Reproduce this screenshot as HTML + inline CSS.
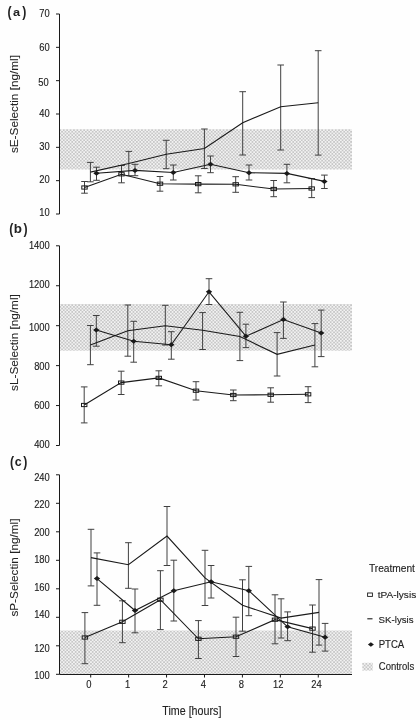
<!DOCTYPE html>
<html><head><meta charset="utf-8"><style>
html,body{margin:0;padding:0;background:#fefefe;}
body{width:420px;height:720px;overflow:hidden;}
svg{display:block;filter:blur(0.3px);}
text{font-family:"Liberation Sans", sans-serif;fill:#222;stroke:#222;stroke-width:0.12px;}
.tk{font-size:9.4px;}
.ti{font-size:10.7px;}
.yt{font-size:10.8px;stroke-width:0.08px;}
.lg{font-size:10.2px;}
.lg2{font-size:10.1px;}
.lg3{font-size:9.7px;}
.lg4{font-size:9.6px;}
.lg5{font-size:9.5px;}
.pl{font-size:14.3px;font-weight:bold;stroke-width:0px;}
.pp{font-size:14.4px;font-weight:bold;stroke-width:0px;}
</style></head><body>
<svg width="420" height="720" viewBox="0 0 420 720">
<defs><pattern id="dots" width="3.4" height="3.4" patternUnits="userSpaceOnUse"><rect width="3.4" height="3.4" fill="#c7c7c7"/><rect x="0" y="0" width="1.7" height="1.7" fill="#f2f2f2"/><rect x="1.7" y="1.7" width="1.7" height="1.7" fill="#f2f2f2"/></pattern></defs>
<rect width="420" height="720" fill="#fefefe"/>
<rect x="59.5" y="129.2" width="292.5" height="40.30000000000001" fill="url(#dots)"/>
<rect x="59.5" y="304" width="292.5" height="46.69999999999999" fill="url(#dots)"/>
<rect x="59.5" y="630.5" width="292.5" height="43.799999999999955" fill="url(#dots)"/>
<line x1="59.5" y1="14" x2="59.5" y2="214" stroke="#1a1a1a" stroke-width="1"/>
<line x1="56.0" y1="14.0" x2="59.5" y2="14.0" stroke="#1a1a1a" stroke-width="1"/>
<text transform="translate(49.8,17.45) scale(1.0,1.12)" text-anchor="end" class="tk">70</text>
<line x1="56.0" y1="47.333333333333336" x2="59.5" y2="47.333333333333336" stroke="#1a1a1a" stroke-width="1"/>
<text transform="translate(49.8,50.55) scale(1.0,1.12)" text-anchor="end" class="tk">60</text>
<line x1="56.0" y1="80.66666666666667" x2="59.5" y2="80.66666666666667" stroke="#1a1a1a" stroke-width="1"/>
<text transform="translate(48.8,85.75) scale(1.0,1.12)" text-anchor="end" class="tk">50</text>
<line x1="56.0" y1="114.0" x2="59.5" y2="114.0" stroke="#1a1a1a" stroke-width="1"/>
<text transform="translate(49.8,117.35) scale(1.0,1.12)" text-anchor="end" class="tk">40</text>
<line x1="56.0" y1="147.33333333333334" x2="59.5" y2="147.33333333333334" stroke="#1a1a1a" stroke-width="1"/>
<text transform="translate(49.8,149.95) scale(1.0,1.12)" text-anchor="end" class="tk">30</text>
<line x1="56.0" y1="180.66666666666669" x2="59.5" y2="180.66666666666669" stroke="#1a1a1a" stroke-width="1"/>
<text transform="translate(49.8,182.75) scale(1.0,1.12)" text-anchor="end" class="tk">20</text>
<line x1="56.0" y1="214.0" x2="59.5" y2="214.0" stroke="#1a1a1a" stroke-width="1"/>
<text transform="translate(49.8,215.85) scale(1.0,1.12)" text-anchor="end" class="tk">10</text>
<line x1="59.5" y1="245.8" x2="59.5" y2="445.5" stroke="#1a1a1a" stroke-width="1"/>
<line x1="56.0" y1="245.8" x2="59.5" y2="245.8" stroke="#1a1a1a" stroke-width="1"/>
<text transform="translate(49.8,248.75) scale(1.0,1.12)" text-anchor="end" class="tk">1400</text>
<line x1="56.0" y1="285.74" x2="59.5" y2="285.74" stroke="#1a1a1a" stroke-width="1"/>
<text transform="translate(49.8,287.75) scale(1.0,1.12)" text-anchor="end" class="tk">1200</text>
<line x1="56.0" y1="325.68" x2="59.5" y2="325.68" stroke="#1a1a1a" stroke-width="1"/>
<text transform="translate(49.8,331.45) scale(1.0,1.12)" text-anchor="end" class="tk">1000</text>
<line x1="56.0" y1="365.62" x2="59.5" y2="365.62" stroke="#1a1a1a" stroke-width="1"/>
<text transform="translate(49.8,370.45) scale(1.0,1.12)" text-anchor="end" class="tk">800</text>
<line x1="56.0" y1="405.56" x2="59.5" y2="405.56" stroke="#1a1a1a" stroke-width="1"/>
<text transform="translate(49.8,408.75) scale(1.0,1.12)" text-anchor="end" class="tk">600</text>
<line x1="56.0" y1="445.5" x2="59.5" y2="445.5" stroke="#1a1a1a" stroke-width="1"/>
<text transform="translate(49.8,447.95) scale(1.0,1.12)" text-anchor="end" class="tk">400</text>
<line x1="59.5" y1="474.8" x2="59.5" y2="674.3" stroke="#1a1a1a" stroke-width="1"/>
<line x1="56.0" y1="474.8" x2="59.5" y2="474.8" stroke="#1a1a1a" stroke-width="1"/>
<text transform="translate(49.8,480.75) scale(1.0,1.12)" text-anchor="end" class="tk">240</text>
<line x1="56.0" y1="503.3" x2="59.5" y2="503.3" stroke="#1a1a1a" stroke-width="1"/>
<text transform="translate(49.8,507.75) scale(1.0,1.12)" text-anchor="end" class="tk">220</text>
<line x1="56.0" y1="531.8" x2="59.5" y2="531.8" stroke="#1a1a1a" stroke-width="1"/>
<text transform="translate(49.8,535.75) scale(1.0,1.12)" text-anchor="end" class="tk">200</text>
<line x1="56.0" y1="560.3" x2="59.5" y2="560.3" stroke="#1a1a1a" stroke-width="1"/>
<text transform="translate(49.8,563.35) scale(1.0,1.12)" text-anchor="end" class="tk">180</text>
<line x1="56.0" y1="588.8" x2="59.5" y2="588.8" stroke="#1a1a1a" stroke-width="1"/>
<text transform="translate(49.8,590.95) scale(1.0,1.12)" text-anchor="end" class="tk">160</text>
<line x1="56.0" y1="617.3" x2="59.5" y2="617.3" stroke="#1a1a1a" stroke-width="1"/>
<text transform="translate(49.8,618.35) scale(1.0,1.12)" text-anchor="end" class="tk">140</text>
<line x1="56.0" y1="645.8" x2="59.5" y2="645.8" stroke="#1a1a1a" stroke-width="1"/>
<text transform="translate(49.8,651.65) scale(1.0,1.12)" text-anchor="end" class="tk">120</text>
<line x1="56.0" y1="674.3" x2="59.5" y2="674.3" stroke="#1a1a1a" stroke-width="1"/>
<text transform="translate(49.8,679.15) scale(1.0,1.12)" text-anchor="end" class="tk">100</text>
<line x1="59.5" y1="674.5" x2="352" y2="674.5" stroke="#1a1a1a" stroke-width="1"/>
<line x1="90.7" y1="674.5" x2="90.7" y2="677.5" stroke="#1a1a1a" stroke-width="1"/>
<text transform="translate(88.8,687.8) scale(1.0,1.1)" text-anchor="middle" class="tk">0</text>
<line x1="128.63" y1="674.5" x2="128.63" y2="677.5" stroke="#1a1a1a" stroke-width="1"/>
<text transform="translate(127.6,687.8) scale(1.0,1.1)" text-anchor="middle" class="tk">1</text>
<line x1="166.56" y1="674.5" x2="166.56" y2="677.5" stroke="#1a1a1a" stroke-width="1"/>
<text transform="translate(165.0,687.8) scale(1.0,1.1)" text-anchor="middle" class="tk">2</text>
<line x1="204.49" y1="674.5" x2="204.49" y2="677.5" stroke="#1a1a1a" stroke-width="1"/>
<text transform="translate(203.3,687.8) scale(1.0,1.1)" text-anchor="middle" class="tk">4</text>
<line x1="242.42000000000002" y1="674.5" x2="242.42000000000002" y2="677.5" stroke="#1a1a1a" stroke-width="1"/>
<text transform="translate(241.4,687.8) scale(1.0,1.1)" text-anchor="middle" class="tk">8</text>
<line x1="280.35" y1="674.5" x2="280.35" y2="677.5" stroke="#1a1a1a" stroke-width="1"/>
<text transform="translate(278.3,687.8) scale(1.0,1.1)" text-anchor="middle" class="tk">12</text>
<line x1="318.28" y1="674.5" x2="318.28" y2="677.5" stroke="#1a1a1a" stroke-width="1"/>
<text transform="translate(316.4,687.8) scale(1.0,1.1)" text-anchor="middle" class="tk">24</text>
<path d="M81.2,181.5H87.8M84.5,181.5V193.2M81.2,193.2H87.8" stroke="#404040" stroke-width="1.0" fill="none"/>
<path d="M118.2,165.5H124.8M121.5,165.5V182.8M118.2,182.8H124.8" stroke="#404040" stroke-width="1.0" fill="none"/>
<path d="M156.7,176.5H163.3M160,176.5V191.2M156.7,191.2H163.3" stroke="#404040" stroke-width="1.0" fill="none"/>
<path d="M194.89999999999998,175.8H201.5M198.2,175.8V192.8M194.89999999999998,192.8H201.5" stroke="#404040" stroke-width="1.0" fill="none"/>
<path d="M232.39999999999998,176.7H239.0M235.7,176.7V192.3M232.39999999999998,192.3H239.0" stroke="#404040" stroke-width="1.0" fill="none"/>
<path d="M270.4,180.5H277.0M273.7,180.5V196.7M270.4,196.7H277.0" stroke="#404040" stroke-width="1.0" fill="none"/>
<path d="M308.4,178.6H315.0M311.7,178.6V197.6M308.4,197.6H315.0" stroke="#404040" stroke-width="1.0" fill="none"/>
<path d="M87.10000000000001,162.4H93.7M90.4,162.4V181.8M87.10000000000001,181.8H93.7" stroke="#404040" stroke-width="1.0" fill="none"/>
<path d="M125.50000000000001,151.4H132.10000000000002M128.8,151.4V175.7M125.50000000000001,175.7H132.10000000000002" stroke="#404040" stroke-width="1.0" fill="none"/>
<path d="M162.89999999999998,140.3H169.5M166.2,140.3V168.7M162.89999999999998,168.7H169.5" stroke="#404040" stroke-width="1.0" fill="none"/>
<path d="M201.1,129H207.70000000000002M204.4,129V168.5M201.1,168.5H207.70000000000002" stroke="#404040" stroke-width="1.0" fill="none"/>
<path d="M239.39999999999998,91.7H246.0M242.7,91.7V155M239.39999999999998,155H246.0" stroke="#404040" stroke-width="1.0" fill="none"/>
<path d="M277.4,65H284.0M280.7,65V150M277.4,150H284.0" stroke="#404040" stroke-width="1.0" fill="none"/>
<path d="M314.9,50.7H321.5M318.2,50.7V155.1M314.9,155.1H321.5" stroke="#404040" stroke-width="1.0" fill="none"/>
<path d="M93.2,167.2H99.8M96.5,167.2V180.3M93.2,180.3H99.8" stroke="#404040" stroke-width="1.0" fill="none"/>
<path d="M131.7,164.3H138.3M135,164.3V175.7M131.7,175.7H138.3" stroke="#404040" stroke-width="1.0" fill="none"/>
<path d="M170.0,165H176.60000000000002M173.3,165V180M170.0,180H176.60000000000002" stroke="#404040" stroke-width="1.0" fill="none"/>
<path d="M207.2,156H213.8M210.5,156V172.7M207.2,172.7H213.8" stroke="#404040" stroke-width="1.0" fill="none"/>
<path d="M245.7,165H252.3M249,165V180M245.7,180H252.3" stroke="#404040" stroke-width="1.0" fill="none"/>
<path d="M283.59999999999997,164.3H290.2M286.9,164.3V182.8M283.59999999999997,182.8H290.2" stroke="#404040" stroke-width="1.0" fill="none"/>
<path d="M321.09999999999997,175.1H327.7M324.4,175.1V188.5M321.09999999999997,188.5H327.7" stroke="#404040" stroke-width="1.0" fill="none"/>
<polyline points="84.5,187.5 121.5,174.3 160,183.7 198.2,184.1 235.7,184.3 273.7,189 311.7,188.5" stroke="#1a1a1a" stroke-width="1.1" fill="none"/>
<polyline points="90.4,172.1 128.8,163.5 166.2,154.2 204.4,148.5 242.7,122.7 280.7,106.7 318.2,102.8" stroke="#1a1a1a" stroke-width="1.1" fill="none"/>
<polyline points="96.5,173.3 135,170.4 173.3,172.5 210.5,164.3 249,172.7 286.9,173.4 324.4,181.4" stroke="#1a1a1a" stroke-width="1.1" fill="none"/>
<rect x="81.8" y="185.9" width="5.4" height="3.2" fill="none" stroke="#1a1a1a" stroke-width="1"/>
<rect x="118.8" y="172.70000000000002" width="5.4" height="3.2" fill="none" stroke="#1a1a1a" stroke-width="1"/>
<rect x="157.3" y="182.1" width="5.4" height="3.2" fill="none" stroke="#1a1a1a" stroke-width="1"/>
<rect x="195.5" y="182.5" width="5.4" height="3.2" fill="none" stroke="#1a1a1a" stroke-width="1"/>
<rect x="233.0" y="182.70000000000002" width="5.4" height="3.2" fill="none" stroke="#1a1a1a" stroke-width="1"/>
<rect x="271.0" y="187.4" width="5.4" height="3.2" fill="none" stroke="#1a1a1a" stroke-width="1"/>
<rect x="309.0" y="186.9" width="5.4" height="3.2" fill="none" stroke="#1a1a1a" stroke-width="1"/>
<path d="M96.5,170.8L99.7,173.3L96.5,175.8L93.3,173.3Z" fill="#1a1a1a"/>
<path d="M135,167.9L138.2,170.4L135,172.9L131.8,170.4Z" fill="#1a1a1a"/>
<path d="M173.3,170.0L176.5,172.5L173.3,175.0L170.10000000000002,172.5Z" fill="#1a1a1a"/>
<path d="M210.5,161.8L213.7,164.3L210.5,166.8L207.3,164.3Z" fill="#1a1a1a"/>
<path d="M249,170.2L252.2,172.7L249,175.2L245.8,172.7Z" fill="#1a1a1a"/>
<path d="M286.9,170.9L290.09999999999997,173.4L286.9,175.9L283.7,173.4Z" fill="#1a1a1a"/>
<path d="M324.4,178.9L327.59999999999997,181.4L324.4,183.9L321.2,181.4Z" fill="#1a1a1a"/>
<path d="M80.9,386.9H87.5M84.2,386.9V422.9M80.9,422.9H87.5" stroke="#404040" stroke-width="1.0" fill="none"/>
<path d="M117.9,371.2H124.5M121.2,371.2V394.5M117.9,394.5H124.5" stroke="#404040" stroke-width="1.0" fill="none"/>
<path d="M155.5,370.8H162.10000000000002M158.8,370.8V385.8M155.5,385.8H162.10000000000002" stroke="#404040" stroke-width="1.0" fill="none"/>
<path d="M192.7,381.7H199.3M196,381.7V400M192.7,400H199.3" stroke="#404040" stroke-width="1.0" fill="none"/>
<path d="M230.0,390H236.60000000000002M233.3,390V400.7M230.0,400.7H236.60000000000002" stroke="#404040" stroke-width="1.0" fill="none"/>
<path d="M267.4,387.8H274.0M270.7,387.8V402.2M267.4,402.2H274.0" stroke="#404040" stroke-width="1.0" fill="none"/>
<path d="M304.8,386.7H311.40000000000003M308.1,386.7V402.6M304.8,402.6H311.40000000000003" stroke="#404040" stroke-width="1.0" fill="none"/>
<path d="M87.10000000000001,325.5H93.7M90.4,325.5V364.7M87.10000000000001,364.7H93.7" stroke="#404040" stroke-width="1.0" fill="none"/>
<path d="M124.5,305H131.1M127.8,305V356.2M124.5,356.2H131.1" stroke="#404040" stroke-width="1.0" fill="none"/>
<path d="M162.0,305.3H168.60000000000002M165.3,305.3V345M162.0,345H168.60000000000002" stroke="#404040" stroke-width="1.0" fill="none"/>
<path d="M199.29999999999998,312.6H205.9M202.6,312.6V349.5M199.29999999999998,349.5H205.9" stroke="#404040" stroke-width="1.0" fill="none"/>
<path d="M236.6,312.3H243.20000000000002M239.9,312.3V360.6M236.6,360.6H243.20000000000002" stroke="#404040" stroke-width="1.0" fill="none"/>
<path d="M273.8,332.6H280.40000000000003M277.1,332.6V376M273.8,376H280.40000000000003" stroke="#404040" stroke-width="1.0" fill="none"/>
<path d="M311.59999999999997,323.6H318.2M314.9,323.6V366.8M311.59999999999997,366.8H318.2" stroke="#404040" stroke-width="1.0" fill="none"/>
<path d="M93.0,315.5H99.6M96.3,315.5V346.2M93.0,346.2H99.6" stroke="#404040" stroke-width="1.0" fill="none"/>
<path d="M130.39999999999998,321.3H137.0M133.7,321.3V362.2M130.39999999999998,362.2H137.0" stroke="#404040" stroke-width="1.0" fill="none"/>
<path d="M168.0,331.7H174.60000000000002M171.3,331.7V359.2M168.0,359.2H174.60000000000002" stroke="#404040" stroke-width="1.0" fill="none"/>
<path d="M205.7,278.7H212.3M209,278.7V304.5M205.7,304.5H212.3" stroke="#404040" stroke-width="1.0" fill="none"/>
<path d="M242.6,324.2H249.20000000000002M245.9,324.2V347.6M242.6,347.6H249.20000000000002" stroke="#404040" stroke-width="1.0" fill="none"/>
<path d="M280.09999999999997,302H286.7M283.4,302V338.4M280.09999999999997,338.4H286.7" stroke="#404040" stroke-width="1.0" fill="none"/>
<path d="M317.9,310.1H324.5M321.2,310.1V356.6M317.9,356.6H324.5" stroke="#404040" stroke-width="1.0" fill="none"/>
<polyline points="84.2,405 121.2,382.6 158.8,377.9 196,390.7 233.3,395 270.7,394.8 308.1,394.3" stroke="#1a1a1a" stroke-width="1.1" fill="none"/>
<polyline points="90.4,345 127.8,330.8 165.3,325.8 202.6,330.3 239.9,336.5 277.1,354.3 314.9,345" stroke="#1a1a1a" stroke-width="1.1" fill="none"/>
<polyline points="96.3,330 133.7,341.2 171.3,344.7 209,291.8 245.9,336.2 283.4,319.6 321.2,332.9" stroke="#1a1a1a" stroke-width="1.1" fill="none"/>
<rect x="81.5" y="403.4" width="5.4" height="3.2" fill="none" stroke="#1a1a1a" stroke-width="1"/>
<rect x="118.5" y="381.0" width="5.4" height="3.2" fill="none" stroke="#1a1a1a" stroke-width="1"/>
<rect x="156.10000000000002" y="376.29999999999995" width="5.4" height="3.2" fill="none" stroke="#1a1a1a" stroke-width="1"/>
<rect x="193.3" y="389.09999999999997" width="5.4" height="3.2" fill="none" stroke="#1a1a1a" stroke-width="1"/>
<rect x="230.60000000000002" y="393.4" width="5.4" height="3.2" fill="none" stroke="#1a1a1a" stroke-width="1"/>
<rect x="268.0" y="393.2" width="5.4" height="3.2" fill="none" stroke="#1a1a1a" stroke-width="1"/>
<rect x="305.40000000000003" y="392.7" width="5.4" height="3.2" fill="none" stroke="#1a1a1a" stroke-width="1"/>
<path d="M96.3,327.5L99.5,330L96.3,332.5L93.1,330Z" fill="#1a1a1a"/>
<path d="M133.7,338.7L136.89999999999998,341.2L133.7,343.7L130.5,341.2Z" fill="#1a1a1a"/>
<path d="M171.3,342.2L174.5,344.7L171.3,347.2L168.10000000000002,344.7Z" fill="#1a1a1a"/>
<path d="M209,289.3L212.2,291.8L209,294.3L205.8,291.8Z" fill="#1a1a1a"/>
<path d="M245.9,333.7L249.1,336.2L245.9,338.7L242.70000000000002,336.2Z" fill="#1a1a1a"/>
<path d="M283.4,317.1L286.59999999999997,319.6L283.4,322.1L280.2,319.6Z" fill="#1a1a1a"/>
<path d="M321.2,330.4L324.4,332.9L321.2,335.4L318.0,332.9Z" fill="#1a1a1a"/>
<path d="M81.60000000000001,612.6H88.2M84.9,612.6V663.7M81.60000000000001,663.7H88.2" stroke="#404040" stroke-width="1.0" fill="none"/>
<path d="M119.10000000000001,600.8H125.7M122.4,600.8V642.7M119.10000000000001,642.7H125.7" stroke="#404040" stroke-width="1.0" fill="none"/>
<path d="M157.1,570.7H163.70000000000002M160.4,570.7V629.6M157.1,629.6H163.70000000000002" stroke="#404040" stroke-width="1.0" fill="none"/>
<path d="M195.1,620.6H201.70000000000002M198.4,620.6V658.5M195.1,658.5H201.70000000000002" stroke="#404040" stroke-width="1.0" fill="none"/>
<path d="M232.7,617.2H239.3M236,617.2V656.5M232.7,656.5H239.3" stroke="#404040" stroke-width="1.0" fill="none"/>
<path d="M271.7,594.8H278.3M275,594.8V643.8M271.7,643.8H278.3" stroke="#404040" stroke-width="1.0" fill="none"/>
<path d="M309.2,605H315.8M312.5,605V652.2M309.2,652.2H315.8" stroke="#404040" stroke-width="1.0" fill="none"/>
<path d="M87.7,529.3H94.3M91,529.3V585.9M87.7,585.9H94.3" stroke="#404040" stroke-width="1.0" fill="none"/>
<path d="M125.10000000000001,542.7H131.70000000000002M128.4,542.7V588.3M125.10000000000001,588.3H131.70000000000002" stroke="#404040" stroke-width="1.0" fill="none"/>
<path d="M163.7,506.5H170.3M167,506.5V565.5M163.7,565.5H170.3" stroke="#404040" stroke-width="1.0" fill="none"/>
<path d="M201.7,550.3H208.3M205,550.3V605.5M201.7,605.5H208.3" stroke="#404040" stroke-width="1.0" fill="none"/>
<path d="M239.2,579.8H245.8M242.5,579.8V631.2M239.2,631.2H245.8" stroke="#404040" stroke-width="1.0" fill="none"/>
<path d="M277.8,598.8H284.40000000000003M281.1,598.8V638M277.8,638H284.40000000000003" stroke="#404040" stroke-width="1.0" fill="none"/>
<path d="M315.7,579.6H322.3M319,579.6V645.1M315.7,645.1H322.3" stroke="#404040" stroke-width="1.0" fill="none"/>
<path d="M93.7,552.9H100.3M97,552.9V605.3M93.7,605.3H100.3" stroke="#404040" stroke-width="1.0" fill="none"/>
<path d="M131.7,589H138.3M135,589V632.8M131.7,632.8H138.3" stroke="#404040" stroke-width="1.0" fill="none"/>
<path d="M170.5,560.2H177.10000000000002M173.8,560.2V621M170.5,621H177.10000000000002" stroke="#404040" stroke-width="1.0" fill="none"/>
<path d="M207.79999999999998,565.5H214.4M211.1,565.5V598M207.79999999999998,598H214.4" stroke="#404040" stroke-width="1.0" fill="none"/>
<path d="M245.5,566.4H252.10000000000002M248.8,566.4V615.7M245.5,615.7H252.10000000000002" stroke="#404040" stroke-width="1.0" fill="none"/>
<path d="M284.3,611.9H290.90000000000003M287.6,611.9V640.7M284.3,640.7H290.90000000000003" stroke="#404040" stroke-width="1.0" fill="none"/>
<path d="M321.8,623.4H328.40000000000003M325.1,623.4V651.1M321.8,651.1H328.40000000000003" stroke="#404040" stroke-width="1.0" fill="none"/>
<polyline points="84.9,637.5 122.4,621.8 160.4,599.7 198.4,638.8 236,636.7 275,619.7 312.5,628.6" stroke="#1a1a1a" stroke-width="1.1" fill="none"/>
<polyline points="91,557.6 128.4,564.7 167,536.1 205,577.9 242.5,605.3 281.1,618.1 319,612.4" stroke="#1a1a1a" stroke-width="1.1" fill="none"/>
<polyline points="97,578.6 135,610.5 173.8,590.7 211.1,581.7 248.8,590.7 287.6,626.8 325.1,637.3" stroke="#1a1a1a" stroke-width="1.1" fill="none"/>
<rect x="82.2" y="635.9" width="5.4" height="3.2" fill="none" stroke="#1a1a1a" stroke-width="1"/>
<rect x="119.7" y="620.1999999999999" width="5.4" height="3.2" fill="none" stroke="#1a1a1a" stroke-width="1"/>
<rect x="157.70000000000002" y="598.1" width="5.4" height="3.2" fill="none" stroke="#1a1a1a" stroke-width="1"/>
<rect x="195.70000000000002" y="637.1999999999999" width="5.4" height="3.2" fill="none" stroke="#1a1a1a" stroke-width="1"/>
<rect x="233.3" y="635.1" width="5.4" height="3.2" fill="none" stroke="#1a1a1a" stroke-width="1"/>
<rect x="272.3" y="618.1" width="5.4" height="3.2" fill="none" stroke="#1a1a1a" stroke-width="1"/>
<rect x="309.8" y="627.0" width="5.4" height="3.2" fill="none" stroke="#1a1a1a" stroke-width="1"/>
<path d="M97,576.1L100.2,578.6L97,581.1L93.8,578.6Z" fill="#1a1a1a"/>
<path d="M135,608.0L138.2,610.5L135,613.0L131.8,610.5Z" fill="#1a1a1a"/>
<path d="M173.8,588.2L177.0,590.7L173.8,593.2L170.60000000000002,590.7Z" fill="#1a1a1a"/>
<path d="M211.1,579.2L214.29999999999998,581.7L211.1,584.2L207.9,581.7Z" fill="#1a1a1a"/>
<path d="M248.8,588.2L252.0,590.7L248.8,593.2L245.60000000000002,590.7Z" fill="#1a1a1a"/>
<path d="M287.6,624.3L290.8,626.8L287.6,629.3L284.40000000000003,626.8Z" fill="#1a1a1a"/>
<path d="M325.1,634.8L328.3,637.3L325.1,639.8L321.90000000000003,637.3Z" fill="#1a1a1a"/>
<text transform="translate(7.388,16.6) scale(0.85,1.0)" text-anchor="start" class="pp">(</text>
<text transform="translate(12.916,15.8) scale(1,0.9)" class="pl" style="font-size:12.8px">a</text>
<text transform="translate(22.1776,16.6) scale(0.85,1.0)" text-anchor="start" class="pp">)</text>
<text transform="translate(9.288,233.70000000000002) scale(0.85,1.0)" text-anchor="start" class="pp">(</text>
<text transform="translate(13.761999999999999,232.9) scale(1,1.0)" class="pl" style="font-size:13.4px">b</text>
<text transform="translate(23.5776,233.70000000000002) scale(0.85,1.0)" text-anchor="start" class="pp">)</text>
<text transform="translate(10.088,467.0) scale(0.85,1.0)" text-anchor="start" class="pp">(</text>
<text transform="translate(14.804,466.2) scale(1,1.0)" class="pl" style="font-size:12.4px">c</text>
<text transform="translate(23.2776,467.0) scale(0.85,1.0)" text-anchor="start" class="pp">)</text>
<text transform="translate(18.4,104.1) rotate(-90) scale(1.09,1.0)" text-anchor="middle" class="yt">sE-Selectin [ng/ml]</text>
<text transform="translate(18.4,342.6) rotate(-90) scale(1.09,1.0)" text-anchor="middle" class="yt">sL-Selectin [ng/ml]</text>
<text transform="translate(18.4,567.6) rotate(-90) scale(1.09,1.0)" text-anchor="middle" class="yt">sP-Selectin [ng/ml]</text>
<text transform="translate(162.3,714.5) scale(1.0,1.12)" text-anchor="start" class="ti">Time [hours]</text>
<text transform="translate(368.9,571.9) scale(1.0,1.0)" text-anchor="start" class="lg">Treatment</text>
<rect x="367.6" y="593" width="4.8" height="3.4" fill="#fff" stroke="#1a1a1a" stroke-width="0.9"/>
<text transform="translate(377.7,597.7) scale(1.0,0.95)" text-anchor="start" class="lg2">tPA-lysis</text>
<line x1="367.3" y1="618.8" x2="372.5" y2="618.8" stroke="#1a1a1a" stroke-width="1.1"/>
<text transform="translate(378.6,622.9) scale(1.0,0.96)" text-anchor="start" class="lg3">SK-lysis</text>
<path d="M370.9,642.3L373.9,644.5L370.9,646.7L367.9,644.5Z" fill="#1a1a1a"/>
<text transform="translate(378.7,648.4) scale(1.0,1.1)" text-anchor="start" class="lg4">PTCA</text>
<rect x="362.3" y="662.8" width="10.5" height="7.8" fill="url(#dots)"/>
<text transform="translate(378.8,670.4) scale(1.0,1.07)" text-anchor="start" class="lg5">Controls</text>
</svg>
</body></html>
